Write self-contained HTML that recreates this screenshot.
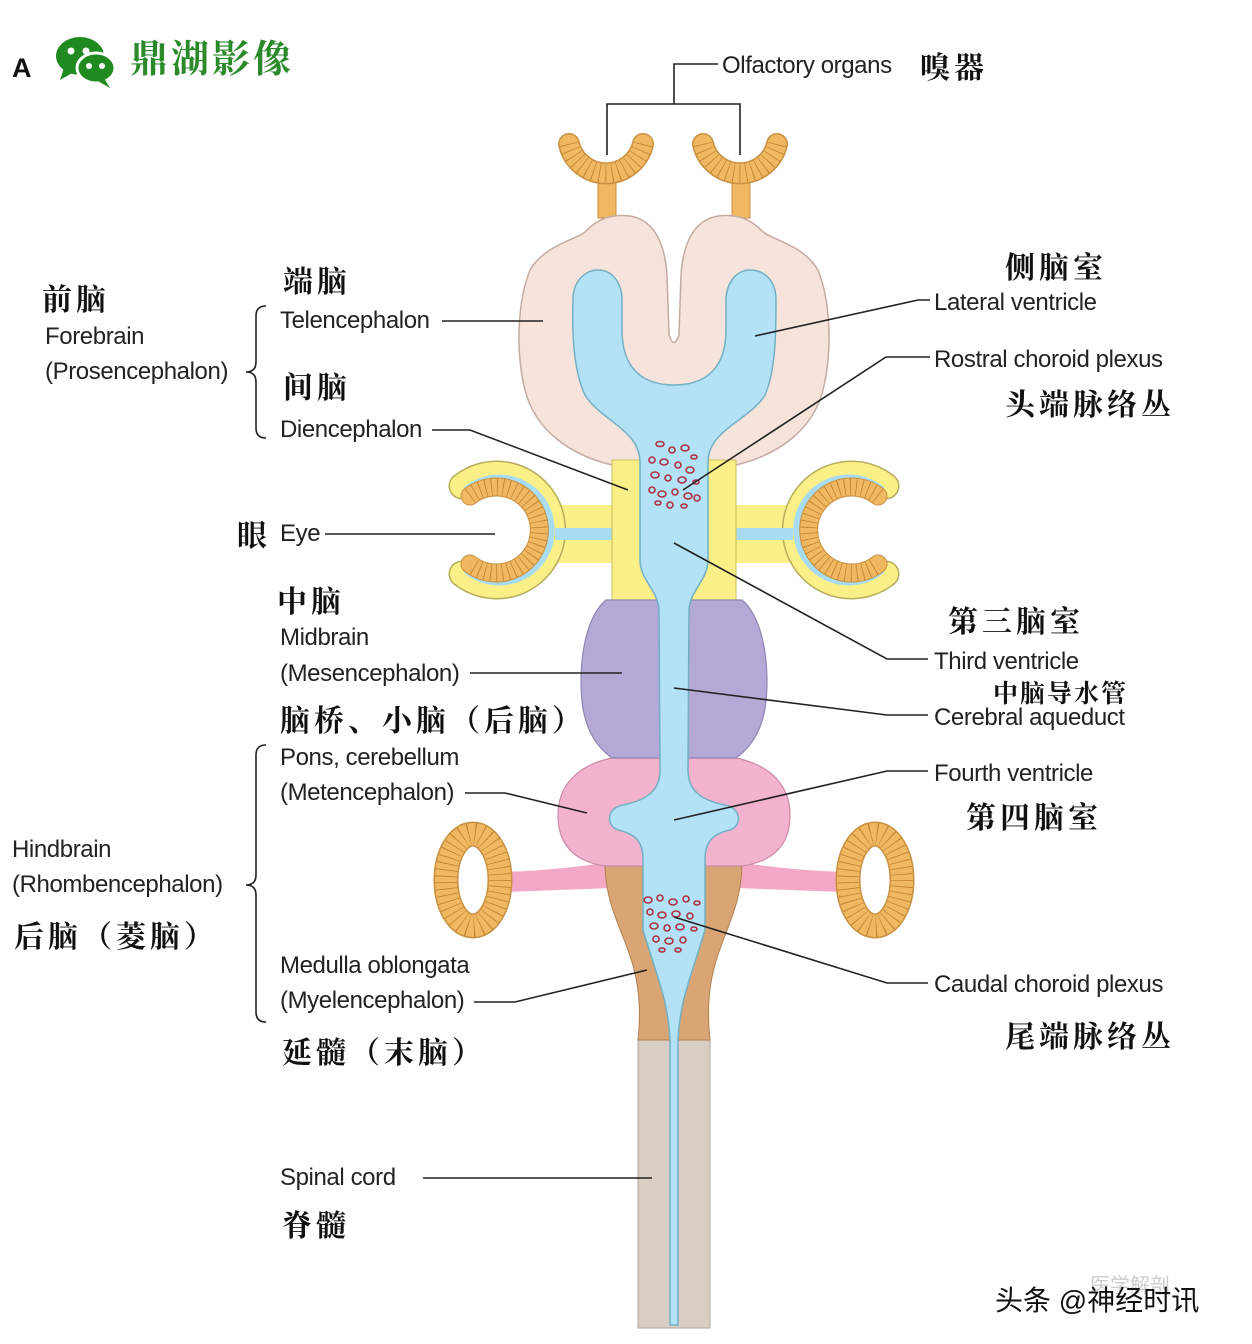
<!DOCTYPE html>
<html><head><meta charset="utf-8"><style>
html,body{margin:0;padding:0;background:#fff;}
svg{display:block;}
.en{font-family:"Liberation Sans",sans-serif;font-size:24px;fill:#222;letter-spacing:-0.4px;}
.cn{font-family:"Noto Serif CJK SC","Liberation Serif",serif;font-size:30px;font-weight:bold;fill:#111;letter-spacing:4px;}
.ln{stroke:#222;stroke-width:1.6;fill:none;}
</style></head><body>
<svg width="1252" height="1344" viewBox="0 0 1252 1344" xmlns="http://www.w3.org/2000/svg">
<rect width="1252" height="1344" fill="#fff"/>

<text x="12" y="77" font-family="Liberation Sans,sans-serif" font-size="27" font-weight="bold" fill="#111">A</text>
<g fill="#1f8a1f">
<ellipse cx="80" cy="56" rx="24" ry="19"/>
<path d="M64 68 L60 80 L74 72 Z"/>
<ellipse cx="96" cy="68" rx="19" ry="15" stroke="#fff" stroke-width="3"/>
<path d="M104 78 L110 88 L96 80 Z"/>
</g>
<g fill="#fff"><circle cx="71" cy="51" r="3.5"/><circle cx="86" cy="51" r="3.5"/><circle cx="89" cy="66" r="3"/><circle cx="102" cy="66" r="3"/></g>
<text x="130" y="72" font-family="Noto Serif CJK SC,serif" font-size="38" font-weight="bold" fill="#2a8a2a" letter-spacing="3">鼎湖影像</text>

<path class="ln" d="M718 64 H674 V104 M607 155 V104 H740 V155"/>

<g id="olf">
<rect x="598" y="178" width="18" height="40" fill="#f0b860" stroke="#c89040" stroke-width="1"/>
<path d="M569 144 A38 38 0 0 0 643 144" fill="none" stroke="#c89040" stroke-width="22" stroke-linecap="round"/>
<path d="M569 144 A38 38 0 0 0 643 144" fill="none" stroke="#f0b860" stroke-width="19" stroke-linecap="round"/>
<path d="M569 144 A38 38 0 0 0 643 144" fill="none" stroke="#c08030" stroke-width="19" stroke-dasharray="0.8 5.5"/>
</g>
<use href="#olf" transform="translate(134,0)"/>

<path d="M612 465 C570 455 535 430 525 390 C515 350 518 300 530 270 C545 245 575 240 585 232 C598 218 612 214 630 216 C655 220 665 245 667 275 L669 335 Q674 350 679 335 L681 275 C683 245 693 220 718 216 C736 214 750 218 763 232 C773 240 803 245 818 270 C830 300 833 350 823 390 C813 430 778 455 736 465 Z" fill="#f6e4dc" stroke="#c4aba2" stroke-width="1.5"/>

<g id="eye">
<rect x="552" y="505" width="68" height="58" fill="#fbef88"/>
<path d="M462 486 A56 56 0 1 1 462 574" fill="none" stroke="#b7ad5a" stroke-width="27" stroke-linecap="round"/>
<path d="M462 486 A56 56 0 1 1 462 574" fill="none" stroke="#fbef88" stroke-width="24" stroke-linecap="round"/>
<path d="M466 490 A52 52 0 1 1 466 570" fill="none" stroke="#a8dcf2" stroke-width="7"/>
<path d="M470 496 A43 43 0 1 1 470 564" fill="none" stroke="#c89040" stroke-width="19" stroke-linecap="round"/>
<path d="M470 496 A43 43 0 1 1 470 564" fill="none" stroke="#f0b860" stroke-width="17" stroke-linecap="round"/>
<path d="M470 496 A43 43 0 1 1 470 564" fill="none" stroke="#c08030" stroke-width="17" stroke-dasharray="0.8 5"/>
<path d="M555 534 L640 534" stroke="#a8dcf2" stroke-width="12"/>
</g>
<use href="#eye" transform="translate(1348,0) scale(-1,1)"/>

<path d="M612 460 L736 460 L736 600 L612 600 Z" fill="#fbef88" stroke="#c8bf60" stroke-width="1"/>

<path d="M505 872 Q560 870 610 862 L612 888 Q560 890 505 892 Z" fill="#f3a9c6"/>
<path d="M843 872 Q788 870 738 862 L736 888 Q788 890 843 892 Z" fill="#f3a9c6"/>
<g id="ear">
<ellipse cx="473" cy="880" rx="27" ry="46" fill="none" stroke="#c89040" stroke-width="25"/>
<ellipse cx="473" cy="880" rx="27" ry="46" fill="none" stroke="#f0b860" stroke-width="22"/>
<ellipse cx="473" cy="880" rx="27" ry="46" fill="none" stroke="#c08030" stroke-width="22" stroke-dasharray="0.8 5.5"/>
</g>
<use href="#ear" transform="translate(402,0)"/>

<rect x="638" y="1040" width="72" height="288" fill="#d8cec3" stroke="#b0a69a" stroke-width="1"/>

<path d="M605 862 L742 862 C742 930 700 950 710 1040 L638 1040 C648 950 605 930 605 862 Z" fill="#d9a575" stroke="#b08050" stroke-width="1"/>

<path d="M612 758 L736 758 C770 765 790 785 790 815 C790 848 770 862 742 866 L605 866 C578 862 558 848 558 815 C558 785 578 765 612 758 Z" fill="#f3b2cd" stroke="#c98ba5" stroke-width="1.2"/>

<path d="M606 600 L742 600 C760 615 767 650 767 682 C767 718 758 742 736 758 L612 758 C590 742 581 718 581 682 C581 650 588 615 606 600 Z" fill="#b4a9d6" stroke="#8f86b4" stroke-width="1.2"/>

<path d="M640 462 C640 430 600 420 585 395 C573 370 572 330 573 300 C573 278 588 270 598 270 C614 270 622 285 622 300 L622 330 C622 368 642 385 674 385 C706 385 726 368 726 330 L726 300 C726 285 735 270 750 270 C764 270 776 280 776 300 C776 330 776 370 765 395 C750 420 708 430 708 462 L708 560 C708 580 690 590 689 610 L688 770 C688 790 700 800 725 805 C742 808 742 826 730 830 C712 834 705 842 705 860 L705 930 C690 980 680 1000 678 1040 L678 1325 L670 1325 L670 1040 C668 1000 658 980 643 930 L643 860 C643 842 636 834 618 830 C606 826 606 808 623 805 C648 800 660 790 660 770 L659 610 C658 590 640 580 640 560 Z" fill="#b3e1f6" stroke="#72b0c4" stroke-width="1.5"/>

<g fill="none" stroke="#b03040" stroke-width="1.6">
<ellipse cx="660" cy="444" rx="4" ry="2.5"/><ellipse cx="672" cy="450" rx="3" ry="3"/><ellipse cx="685" cy="448" rx="4" ry="3"/><ellipse cx="694" cy="457" rx="3" ry="2"/>
<ellipse cx="652" cy="460" rx="3" ry="3"/><ellipse cx="664" cy="462" rx="4" ry="3"/><ellipse cx="678" cy="465" rx="3" ry="3"/><ellipse cx="690" cy="470" rx="4" ry="3"/>
<ellipse cx="655" cy="475" rx="4" ry="3"/><ellipse cx="668" cy="478" rx="3" ry="3"/><ellipse cx="682" cy="480" rx="4" ry="3"/><ellipse cx="696" cy="482" rx="3" ry="2"/>
<ellipse cx="652" cy="490" rx="3" ry="3"/><ellipse cx="662" cy="494" rx="4" ry="3"/><ellipse cx="675" cy="492" rx="3" ry="3"/><ellipse cx="688" cy="496" rx="4" ry="3"/>
<ellipse cx="658" cy="503" rx="3" ry="2"/><ellipse cx="670" cy="505" rx="3" ry="3"/><ellipse cx="684" cy="506" rx="3" ry="2"/><ellipse cx="697" cy="498" rx="3" ry="3"/>
<ellipse cx="648" cy="900" rx="4" ry="3"/><ellipse cx="660" cy="898" rx="3" ry="3"/><ellipse cx="673" cy="902" rx="4" ry="3"/><ellipse cx="686" cy="899" rx="3" ry="3"/><ellipse cx="697" cy="903" rx="3" ry="2"/>
<ellipse cx="650" cy="912" rx="3" ry="3"/><ellipse cx="662" cy="915" rx="4" ry="3"/><ellipse cx="676" cy="914" rx="4" ry="3"/><ellipse cx="690" cy="916" rx="3" ry="3"/>
<ellipse cx="654" cy="926" rx="4" ry="3"/><ellipse cx="667" cy="928" rx="3" ry="3"/><ellipse cx="680" cy="927" rx="4" ry="3"/><ellipse cx="694" cy="929" rx="3" ry="2"/>
<ellipse cx="656" cy="939" rx="3" ry="3"/><ellipse cx="669" cy="941" rx="4" ry="3"/><ellipse cx="683" cy="940" rx="3" ry="3"/><ellipse cx="662" cy="950" rx="3" ry="2"/><ellipse cx="678" cy="950" rx="3" ry="2"/>
</g>

<path class="ln" d="M442 321 H543"/>
<path class="ln" d="M432 430 H470 L628 490"/>
<path class="ln" d="M325 534 H495"/>
<path class="ln" d="M470 673 H622"/>
<path class="ln" d="M465 793 H505 L587 813"/>
<path class="ln" d="M474 1002 H515 L647 970"/>
<path class="ln" d="M423 1178 H652"/>
<path class="ln" d="M930 300 H918 L755 336"/>
<path class="ln" d="M930 357 H886 L683 490"/>
<path class="ln" d="M928 659 H887 L674 543"/>
<path class="ln" d="M928 715 H887 L674 688"/>
<path class="ln" d="M928 771 H887 L674 820"/>
<path class="ln" d="M928 983 H887 L674 917"/>

<path class="ln" d="M266 306 Q256 306 256 316 L256 362 Q256 372 246 372 Q256 372 256 382 L256 428 Q256 438 266 438"/>
<path class="ln" d="M266 745 Q256 745 256 755 L256 875 Q256 885 246 885 Q256 885 256 895 L256 1012 Q256 1022 266 1022"/>

<text class="en" x="722" y="73">Olfactory organs</text>
<text class="cn" x="920" y="78">嗅器</text>
<text class="cn" x="1005" y="278">侧脑室</text>
<text class="en" x="934" y="310">Lateral ventricle</text>
<text class="en" x="934" y="367">Rostral choroid plexus</text>
<text class="cn" x="1005" y="415">头端脉络丛</text>
<text class="cn" x="42" y="310">前脑</text>
<text class="en" x="45" y="344">Forebrain</text>
<text class="en" x="45" y="379">(Prosencephalon)</text>
<text class="cn" x="283" y="292">端脑</text>
<text class="en" x="280" y="328">Telencephalon</text>
<text class="cn" x="283" y="398">间脑</text>
<text class="en" x="280" y="437">Diencephalon</text>
<text class="cn" x="237" y="546">眼</text>
<text class="en" x="280" y="541">Eye</text>
<text class="cn" x="277" y="612">中脑</text>
<text class="en" x="280" y="645">Midbrain</text>
<text class="en" x="280" y="681">(Mesencephalon)</text>
<text class="cn" x="948" y="632">第三脑室</text>
<text class="en" x="934" y="669">Third ventricle</text>
<text class="cn" x="993" y="702" style="font-size:25px;letter-spacing:2px">中脑导水管</text>
<text class="en" x="934" y="725">Cerebral aqueduct</text>
<text class="cn" x="280" y="731">脑桥、小脑（后脑）</text>
<text class="en" x="280" y="765">Pons, cerebellum</text>
<text class="en" x="280" y="800">(Metencephalon)</text>
<text class="en" x="934" y="781">Fourth ventricle</text>
<text class="cn" x="966" y="828">第四脑室</text>
<text class="en" x="12" y="857">Hindbrain</text>
<text class="en" x="12" y="892">(Rhombencephalon)</text>
<text class="cn" x="14" y="947">后脑（菱脑）</text>
<text class="en" x="280" y="973">Medulla oblongata</text>
<text class="en" x="280" y="1008">(Myelencephalon)</text>
<text class="cn" x="282" y="1063">延髓（末脑）</text>
<text class="en" x="934" y="992">Caudal choroid plexus</text>
<text class="cn" x="1005" y="1047">尾端脉络丛</text>
<text class="en" x="280" y="1185">Spinal cord</text>
<text class="cn" x="282" y="1236">脊髓</text>
<text x="1090" y="1292" font-family="Noto Sans CJK SC,sans-serif" font-size="20" fill="#ccc">医学解剖</text>
<text x="995" y="1310" font-family="Liberation Sans,Noto Sans CJK SC,sans-serif" font-size="28" fill="#111">头条 @神经时讯</text>
</svg>
</body></html>
